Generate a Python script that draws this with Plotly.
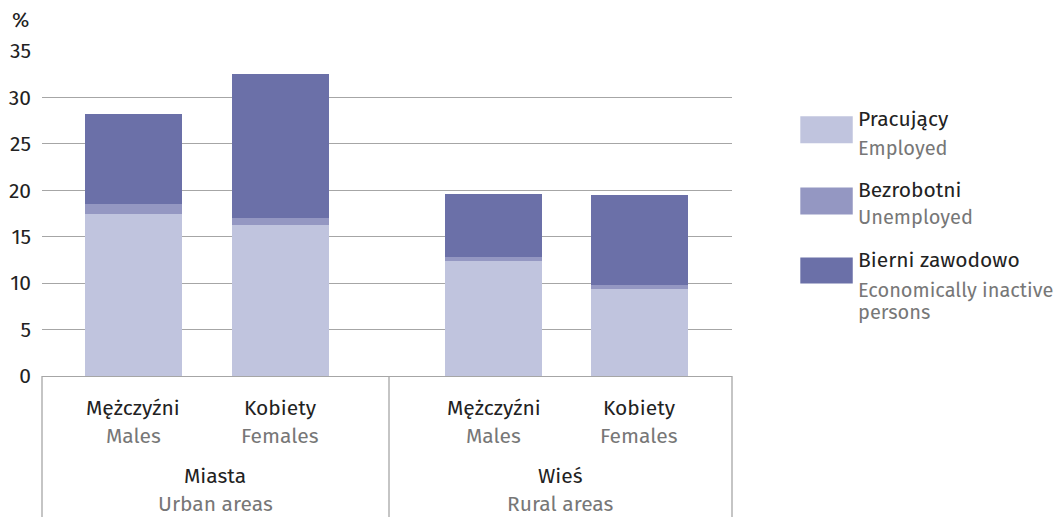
"""stacked bar chart of population by economic activity, urban vs rural"""
import plotly.graph_objects as go

# data (%)
groups = ["Miasta", "Wieś"]
groups_en = ["Urban areas", "Rural areas"]
sexes = ["Mężczyźni", "Kobiety"]
sexes_en = ["Males", "Females"]

employed_urban = [17.5, 16.3]
unemployed_urban = [1.05, 0.75]
inactive_urban = [9.65, 15.45]

employed_rural = [12.4, 9.4]
unemployed_rural = [0.45, 0.4]
inactive_rural = [6.75, 9.7]

series_pl = ["Pracujący", "Bezrobotni", "Bierni zawodowo"]
series_en = ["Employed", "Unemployed", "Economically inactive<br>persons"]
colors = ["#c0c4de", "#9497c2", "#6b70a8"]

FONT = "Fira Sans, Noto Sans, Open Sans, sans-serif"
DARK = "#222222"
GREY = "#777777"
LINE = "#a6a6a6"
FS = 21

fig = go.Figure()

urban = [employed_urban, unemployed_urban, inactive_urban]
rural = [employed_rural, unemployed_rural, inactive_rural]
for i in range(3):
    fig.add_trace(go.Bar(x=sexes, y=urban[i], name=series_pl[i],
                         marker=dict(color=colors[i], line_width=0),
                         width=0.66, xaxis="x", yaxis="y", showlegend=False))
    fig.add_trace(go.Bar(x=sexes, y=rural[i], name=series_pl[i],
                         marker=dict(color=colors[i], line_width=0),
                         width=0.66, xaxis="x2", yaxis="y2", showlegend=False))

split = 347 / 690
xcommon = dict(type="category", showticklabels=False, ticks="",
               showgrid=False, showline=True, linecolor=LINE, linewidth=1.3,
               zeroline=False, fixedrange=True, automargin=False)
ycommon = dict(range=[0, 35], dtick=5, showgrid=True, gridcolor=LINE,
               gridwidth=1.3, zeroline=False, ticks="", fixedrange=True,
               automargin=False)

# page body has an 8px margin, so the figure is 8px smaller and shifted
fig.update_layout(
    width=1055, height=509,
    margin=dict(l=34, r=331, t=43, b=141),
    plot_bgcolor="white", paper_bgcolor="white",
    barmode="stack",
    font=dict(family=FONT, size=FS, color=DARK),
    xaxis=dict(domain=[0, split], range=[-0.622, 1.738], anchor="y", **xcommon),
    xaxis2=dict(domain=[split, 1], range=[-0.716, 1.634], anchor="y2", **xcommon),
    yaxis=dict(anchor="x", ticklabelstandoff=10,
               tickfont=dict(size=FS, color=DARK), **ycommon),
    yaxis2=dict(anchor="x2", matches="y", showticklabels=False, **ycommon),
)

ann = []
# "%" unit label
ann.append(dict(text="%", x=-0.047, y=1.095, xref="paper", yref="paper",
                xanchor="left", yanchor="middle", showarrow=False,
                font=dict(size=FS, color=DARK)))

# category labels under the bars
for xr in ["x", "x2"]:
    for s, s_en in zip(sexes, sexes_en):
        ann.append(dict(text=s, x=s, y=-0.097, xref=xr, yref="paper",
                        xanchor="center", yanchor="middle", showarrow=False))
        ann.append(dict(text=s_en, x=s, y=-0.186, xref=xr, yref="paper",
                        xanchor="center", yanchor="middle", showarrow=False,
                        font=dict(color=GREY)))

# group labels
for g, g_en, xc in zip(groups, groups_en, [split / 2, (1 + split) / 2]):
    ann.append(dict(text=g, x=xc, y=-0.309, xref="paper", yref="paper",
                    xanchor="center", yanchor="middle", showarrow=False))
    ann.append(dict(text=g_en, x=xc, y=-0.393, xref="paper", yref="paper",
                    xanchor="center", yanchor="middle", showarrow=False,
                    font=dict(color=GREY)))

# legend drawn by hand (big swatches, two-language labels)
shapes = []
sw_y = [(0.716, 0.799), (0.497, 0.580), (0.285, 0.365)]
pl_y = [0.79, 0.571, 0.356]
en_y = [0.703, 0.488, 0.266]
for i in range(3):
    shapes.append(dict(type="rect", xref="paper", yref="paper",
                       x0=1.099, x1=1.175, y0=sw_y[i][0], y1=sw_y[i][1],
                       fillcolor=colors[i], line_width=0))
    ann.append(dict(text=series_pl[i], x=1.179, y=pl_y[i], xref="paper",
                    yref="paper", xanchor="left", yanchor="middle",
                    showarrow=False))
    for k, line in enumerate(series_en[i].split("<br>")):
        ann.append(dict(text=line, x=1.179, y=en_y[i] - 0.07 * k,
                        xref="paper", yref="paper", xanchor="left",
                        yanchor="middle", showarrow=False,
                        font=dict(size=20, color=GREY)))

# vertical dividers of the category box
for xd in [0, split, 1]:
    shapes.append(dict(type="line", xref="paper", yref="paper",
                       x0=xd, x1=xd, y0=0, y1=-0.5,
                       line=dict(color=LINE, width=1.3)))

fig.update_layout(annotations=ann, shapes=shapes)

fig.write_html("out.html")
